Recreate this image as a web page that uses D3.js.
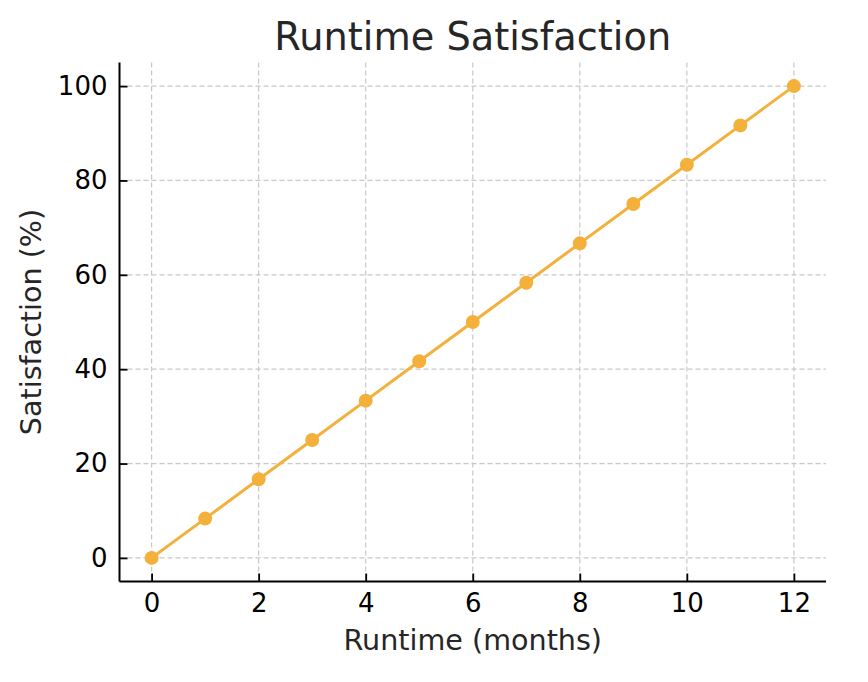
<!DOCTYPE html>
<html>
<head>
<meta charset="utf-8">
<script src="https://cdn.jsdelivr.net/npm/d3@7"></script>
<style>
  html, body { margin: 0; padding: 0; background: #fff; }
  svg { display: block; font-family: "DejaVu Sans", sans-serif; }
</style>
</head>
<body>
<svg id="chart" width="868" height="682"></svg>
<script>
const months = [0, 1, 2, 3, 4, 5, 6, 7, 8, 9, 10, 11, 12];
const satisfaction = [0, 8.33, 16.67, 25, 33.33, 41.67, 50, 58.33, 66.67, 75, 83.33, 91.67, 100];
const xTicks = [0, 2, 4, 6, 8, 10, 12];
const yTicks = [0, 20, 40, 60, 80, 100];
const title = "Runtime Satisfaction";
const xLabel = "Runtime (months)";
const yLabel = "Satisfaction (%)";

const data = months.map((m, i) => ({ x: m, y: satisfaction[i] }));

const svg = d3.select("#chart");
const mL = 119.5, mR = 826, mT = 62.5, mB = 581.5;
const x = d3.scaleLinear().domain([-0.6, 12.6]).range([mL, mR]);
const y = d3.scaleLinear().domain([-5, 105]).range([mB, mT]);

const color = "#f3b03b";
const gridColor = "#c8c8c8";

// grid
const grid = svg.append("g");
grid.selectAll("line.vx").data(xTicks).enter().append("line")
  .attr("x1", d => x(d)).attr("x2", d => x(d))
  .attr("y1", mT).attr("y2", mB)
  .attr("stroke", gridColor).attr("stroke-width", 1.2).attr("stroke-dasharray", "5,3");
grid.selectAll("line.hy").data(yTicks).enter().append("line")
  .attr("x1", mL).attr("x2", mR)
  .attr("y1", d => y(d)).attr("y2", d => y(d))
  .attr("stroke", gridColor).attr("stroke-width", 1.2).attr("stroke-dasharray", "5,3");

// axes
const xAxis = d3.axisBottom(x).tickValues(xTicks).tickSizeInner(-8).tickSizeOuter(0).tickPadding(20);
const yAxis = d3.axisLeft(y).tickValues(yTicks).tickSizeInner(-8).tickSizeOuter(0).tickPadding(20);

const gx = svg.append("g").attr("transform", `translate(0,${mB})`).call(xAxis);
const gy = svg.append("g").attr("transform", `translate(${mL},0)`).call(yAxis);
[gx, gy].forEach(g => {
  g.select(".domain").attr("stroke", "#000").attr("stroke-width", 2);
  g.selectAll(".tick line").attr("stroke", "#000").attr("stroke-width", 1.8);
  g.selectAll(".tick text").attr("fill", "#000").attr("font-size", 26)
    .attr("font-family", "DejaVu Sans, sans-serif");
});
gx.select(".domain").attr("d", `M${mL},0H${mR}`);
gy.select(".domain").attr("d", `M0,${mB}V${mT}`);
gx.selectAll(".tick text").attr("dy", "0.71em").attr("y", 12);
gy.selectAll(".tick text").attr("x", -12);

// line
const line = d3.line().x(d => x(d.x)).y(d => y(d.y));
svg.append("path").datum(data).attr("d", line)
  .attr("fill", "none").attr("stroke", color).attr("stroke-width", 3);
svg.append("g").selectAll("circle").data(data).enter().append("circle")
  .attr("cx", d => x(d.x)).attr("cy", d => y(d.y)).attr("r", 7)
  .attr("fill", color);

// labels
svg.append("text").attr("x", (mL + mR) / 2).attr("y", 50)
  .attr("text-anchor", "middle").attr("font-size", 38.3).attr("fill", "#262626")
  .text(title);
svg.append("text").attr("x", (mL + mR) / 2).attr("y", 650)
  .attr("text-anchor", "middle").attr("font-size", 28.6).attr("fill", "#262626")
  .text(xLabel);
svg.append("text")
  .attr("transform", `translate(41,${(mT + mB) / 2}) rotate(-90)`)
  .attr("text-anchor", "middle").attr("font-size", 28.6).attr("fill", "#262626")
  .text(yLabel);
</script>
</body>
</html>
